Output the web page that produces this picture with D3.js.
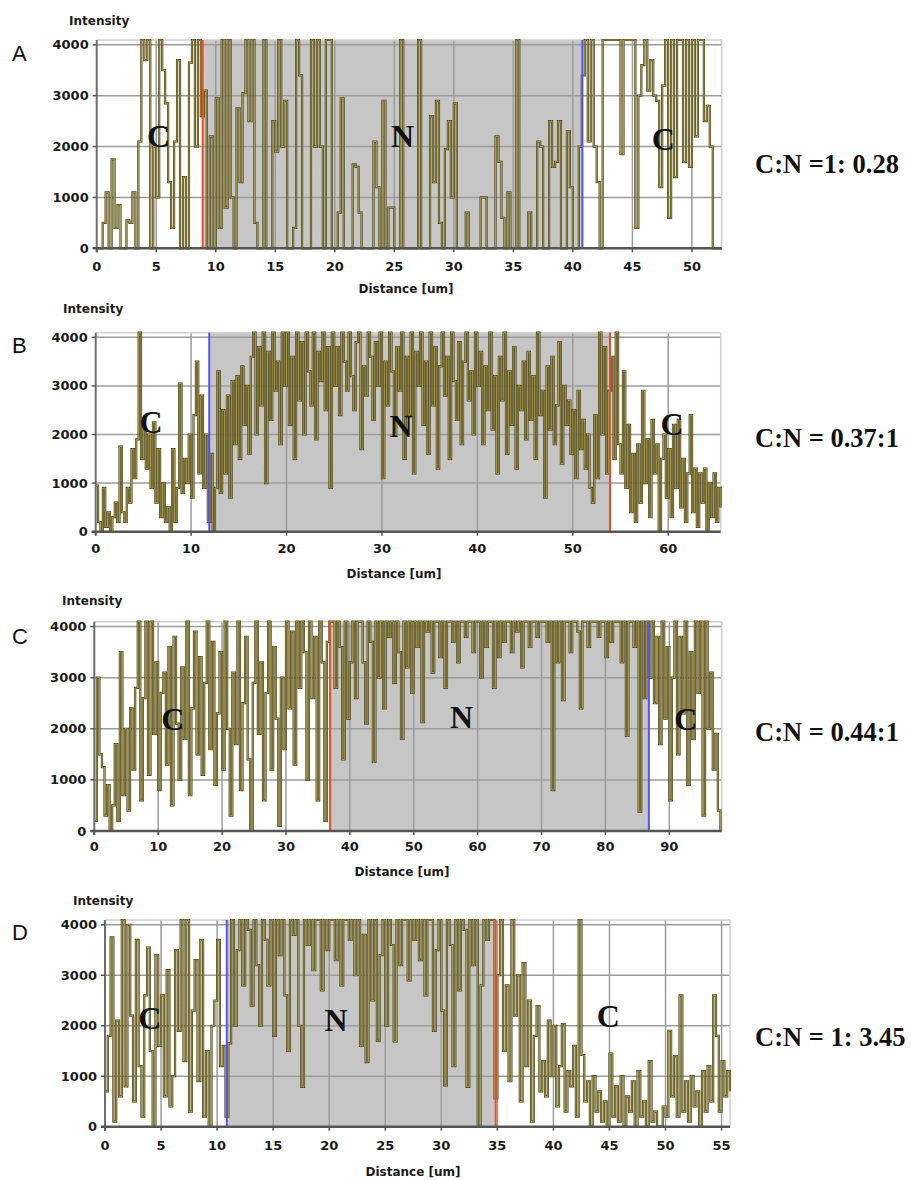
<!DOCTYPE html>
<html>
<head>
<meta charset="utf-8">
<script src="https://cdn.jsdelivr.net/npm/d3@7"></script>
<style>
  body { margin: 0; background: #fff; }
  svg { display: block; }
</style>
</head>
<body>
<svg id="fig" width="911" height="1180"></svg>
<script>
// intensity profiles, one sample every `step` um
var stepA = 0.25;
var intensityA = [
  0, 0, 500, 1100, 0, 1750, 400, 850, 0, 0, 550, 500, 1100, 0, 2100, 4095, 3700, 4095, 0, 2000,
  1000, 4095, 3500, 2850, 1300, 400, 2100, 3700, 0, 1400, 0, 3650, 4095, 2000, 4095, 2600, 3100, 0, 2200, 0,
  2950, 400, 4095, 800, 4095, 1000, 0, 2750, 1300, 3050, 4095, 2500, 4095, 500, 0, 0, 4095, 0, 0, 2500,
  1900, 4095, 2000, 2900, 0, 0, 400, 4095, 3400, 0, 0, 0, 4095, 2000, 4095, 2000, 0, 4095, 4095, 0,
  0, 700, 2950, 0, 0, 0, 1650, 1600, 700, 0, 0, 0, 0, 2100, 1200, 0, 2900, 0, 800, 800,
  0, 0, 4095, 0, 0, 0, 0, 0, 4095, 0, 0, 0, 2600, 1300, 2900, 500, 0, 1950, 2500, 1000,
  2850, 0, 0, 0, 700, 0, 0, 0, 0, 1000, 1000, 0, 0, 0, 2200, 1700, 600, 0, 1100, 0,
  0, 4095, 0, 0, 0, 700, 0, 0, 2100, 2000, 0, 0, 2500, 1600, 1700, 2500, 0, 0, 2300, 1200,
  0, 0, 2000, 3400, 4095, 2100, 4095, 2000, 1300, 0, 4095, 4095, 4095, 4095, 4095, 4095, 1850, 4095, 4095, 4095,
  4095, 400, 3000, 3600, 4095, 3100, 3700, 3000, 2900, 1200, 3200, 4095, 600, 4095, 1400, 4095, 4095, 1700, 4095, 1600,
  4095, 2200, 4095, 4095, 2500, 2800, 2000, 0, 0, 0, 0
];

var stepB = 0.25;
var intensityB = [
  950, 200, 0, 900, 100, 400, 0, 300, 600, 200, 1750, 400, 200, 900, 600, 1700, 1100, 1900, 4095, 1500,
  2100, 1300, 2000, 900, 2250, 600, 1700, 300, 1000, 200, 500, 0, 1700, 200, 900, 3050, 800, 1500, 1000, 2000,
  700, 2400, 3500, 1200, 2800, 900, 2000, 200, 1600, 0, 900, 3300, 800, 2500, 1200, 2800, 700, 3100, 1800, 3200,
  1500, 3400, 2200, 3000, 1600, 3600, 4095, 2000, 3800, 2600, 4095, 1000, 3700, 2300, 4095, 2900, 3500, 1800, 4095, 3000,
  4095, 2200, 3600, 1500, 4095, 2700, 3900, 2000, 4095, 3300, 2600, 4095, 1900, 3700, 3100, 4095, 2500, 3800, 900, 4095,
  3000, 3800, 2400, 4095, 3500, 2900, 4095, 3200, 2500, 3900, 4095, 1700, 3400, 2800, 4095, 3600, 2300, 3900, 3000, 4095,
  1100, 3500, 2600, 4095, 3300, 2000, 3800, 2900, 4095, 1500, 3600, 2400, 4095, 1200, 3700, 3000, 4095, 2200, 3500, 1600,
  4095, 2600, 3800, 1300, 3400, 4095, 2800, 3600, 1500, 4095, 3100, 2300, 3900, 1800, 3500, 4095, 2700, 3300, 2000, 4095,
  3000, 3700, 1800, 3400, 2500, 4095, 2100, 3200, 1200, 3600, 2700, 4095, 1600, 3300, 2200, 3800, 1300, 3000, 2500, 3500,
  1900, 3700, 2300, 3200, 1500, 4095, 2400, 2900, 700, 3400, 2100, 3600, 1800, 2600, 3900, 1400, 3000, 2200, 2700, 1600,
  2500, 1100, 2900, 1700, 2300, 1300, 2000, 900, 600, 2400, 1100, 4095, 2000, 3800, 1200, 2900, 3600, 1500, 4095, 1800,
  1200, 3300, 900, 2200, 400, 1600, 200, 1800, 600, 2900, 1000, 1900, 300, 2300, 1200, 1800, 0, 1500, 2000, 700,
  1700, 300, 2200, 900, 2300, 500, 1500, 200, 1200, 2400, 400, 1300, 100, 1200, 600, 1300, 0, 1000, 300, 1200,
  200, 900, 500
];

var stepC = 0.4;
var intensityC = [
  200, 3000, 1500, 1250, 300, 900, 0, 500, 1700, 200, 3500, 700, 2000, 400, 2400, 1200, 2800, 4095, 600, 2600, 4095, 1100, 4095, 1900, 3300,
  800, 2700, 3100, 1300, 3600, 500, 3800, 2100, 1000, 3200, 1800, 4095, 700, 2400, 3900, 1500, 3400, 1100, 2900, 4095, 1600, 3700, 900, 2300, 3500,
  1200, 4095, 2000, 300, 3100, 1700, 4095, 800, 2500, 3800, 1400, 0, 2900, 4095, 1900, 3300, 600, 2700, 4095, 1200, 3600, 2200, 100, 3000, 1600,
  4095, 2400, 3900, 1300, 4095, 2800, 4095, 3500, 1000, 4095, 2600, 3800, 600, 4095, 3300, 200, 3700, 4095,
  4095, 2800, 4095, 3600, 1400, 4095, 2200, 3300,
  4095, 2600, 4095, 4095, 3300, 2100, 4095, 3700, 1350, 4095, 3000, 4095,
  2400, 4095, 3800, 4095, 2900, 4095, 3500, 1800, 4095, 3200, 4095, 2700, 4095,
  3600, 4095, 2130, 4095, 3900, 4095, 3100, 4095, 4095, 3400, 4095, 2800,
  4095, 4095, 3700, 4095, 3300, 4095, 4095, 3800, 4095, 4095, 3500, 4095, 4095,
  3000, 4095, 3600, 4095, 4095, 2800, 4095, 3400, 4095, 3700, 4095, 4095,
  3500, 4095, 3900, 4095, 3200, 4095, 4095, 3600, 4095, 4095, 3800, 4095, 4095,
  4095, 3700, 4095, 800, 4095, 3300, 4095, 2560, 4095, 4095, 3500, 4095,
  4095, 3900, 2400, 4095, 4095, 3600, 4095, 4095, 4095, 3800, 4095, 4095, 3400,
  4095, 3700, 4095, 4095, 4095, 3300, 4095, 1860, 4095, 4095, 3600, 4095, 380, 4095, 2600, 4095, 3000,
  4095, 2500, 3800, 1700, 4095, 2200, 3600, 600, 3000, 4095, 1500, 3800, 2300, 4095, 900, 3500, 1800, 4095, 2700, 4095,
  300, 4095, 2000, 3100, 1200, 1900, 400, 0
];

var stepD = 0.25;
var intensityD = [
  700, 1800, 3750, 100, 2100, 600, 4095, 800, 4000, 2200, 500, 3700, 1200, 200, 2600, 3550, 1500, 0, 3400, 1600,
  2600, 600, 3100, 400, 1000, 3500, 1900, 4095, 1300, 4095, 300, 2300, 3300, 900, 3700, 200, 1500, 0, 2000, 2500,
  3700, 1200, 1600, 200,
  1650, 4095, 2000, 3500, 4095, 2800, 4095, 3900, 2400, 4095, 3200, 2000, 4095, 3700, 2800, 4095,
  1800, 4095, 3400, 4095, 2600, 1500, 4095, 3800, 4095, 2000, 790, 4095, 3600, 4095, 3100, 4095, 4095, 2700, 4095, 3500,
  4095, 4095, 3300, 4095, 2800, 4095, 4095, 3700, 4095, 3000, 4095, 1600, 3800, 1280, 4095, 2500, 4095, 1700, 3400, 4095,
  2000, 4095, 3600, 1690, 4095, 3200, 4095, 4095, 2900, 4095, 3700, 4095, 3300, 4095, 2600, 4095, 4095, 1900, 3500, 4095,
  2300, 820, 4095, 3600, 1200, 4095, 2700, 4095, 3900, 790, 4095, 3200, 4095, 0, 2800, 4095, 3700, 4095, 4095, 560,
  3000, 4095, 1500, 2800, 900, 4095, 2200, 3000, 500, 3240, 1200, 2500, 100, 1800, 2390, 700, 1300, 600, 2100, 1000,
  2000, 400, 1200, 2035, 300, 1100, 800, 1600, 200, 4095, 1420, 500, 900, 0, 1000, 300, 700, 100, 500, 0,
  1450, 200, 800, 100, 1000, 0, 600, 300, 900, 0, 1100, 200, 500, 0, 1300, 100, 300, 0, 0, 400,
  200, 1900, 600, 1400, 200, 2600, 300, 900, 100, 1000, 400, 700, 0, 1100, 300, 1200, 500, 2600, 1800, 300,
  1300, 600, 1100, 700
];

var ticksA = [0, 5, 10, 15, 20, 25, 30, 35, 40, 45, 50];
var ticksB = [0, 10, 20, 30, 40, 50, 60];
var ticksC = [0, 10, 20, 30, 40, 50, 60, 70, 80, 90];
var ticksD = [0, 5, 10, 15, 20, 25, 30, 35, 40, 45, 50, 55];
var yTicks = [0, 1000, 2000, 3000, 4000];

// nucleus boundaries [red, blue] in um
var boundsA = [8.9, 40.8];
var boundsB = [53.9, 11.9];
var boundsC = [36.9, 86.8];
var boundsD = [34.85, 10.86];

// region labels: [text, distance, intensity]
var regionsA = [["C", 5.2, 2000], ["N", 25.7, 2000], ["C", 47.6, 1930]];
var regionsB = [["C", 5.8, 2040], ["N", 32.0, 1955], ["C", 60.4, 1990]];
var regionsC = [["C", 12.3, 1976], ["N", 57.5, 2020], ["C", 92.6, 1976]];
var regionsD = [["C", 4.0, 1936], ["N", 20.6, 1902], ["C", 44.9, 1981]];

var ratios = ["C:N =1: 0.28", "C:N = 0.37:1", "C:N = 0.44:1", "C:N = 1: 3.45"];
var letters = ["A", "B", "C", "D"];

var yMax = 4095;

// page layout of each panel
var layout = [
  {x0: 96.7, x1: 721.7, top: 40, bottom: 248.3, xMax: 52.5, intY: 24.5, intX: 69, letY: 61, labY: 270.5, distY: 292.5, distX: 406, ratioY: 173},
  {x0: 95.7, x1: 720.7, top: 332.7, bottom: 531.7, xMax: 65.5, intY: 312.8, intX: 63, letY: 353, labY: 553, distY: 578, distX: 394, ratioY: 446.5},
  {x0: 94.3, x1: 721.7, top: 621.7, bottom: 831, xMax: 98.2, intY: 604.5, intX: 62, letY: 644, labY: 850.5, distY: 876, distX: 402, ratioY: 741},
  {x0: 105, x1: 730, top: 920, bottom: 1126.7, xMax: 55.75, intY: 904.5, intX: 73, letY: 940, labY: 1150, distY: 1176, distX: 413, ratioY: 1046}
];

var series = [
  {step: stepA, values: intensityA, ticks: ticksA, bounds: boundsA, regions: regionsA},
  {step: stepB, values: intensityB, ticks: ticksB, bounds: boundsB, regions: regionsB},
  {step: stepC, values: intensityC, ticks: ticksC, bounds: boundsC, regions: regionsC},
  {step: stepD, values: intensityD, ticks: ticksD, bounds: boundsD, regions: regionsD}
];

var svg = d3.select("#fig");
var sans = "'DejaVu Sans', Verdana, sans-serif";
var serif = "'Liberation Serif', 'Times New Roman', serif";

series.forEach(function(s, k) {
  var L = layout[k];
  var x = d3.scaleLinear().domain([0, L.xMax]).range([L.x0, L.x1]);
  var y = d3.scaleLinear().domain([0, yMax]).range([L.bottom, L.top]);
  var g = svg.append("g");

  // nucleus shading
  var lo = d3.min(s.bounds), hi = d3.max(s.bounds);
  g.append("rect")
    .attr("x", x(lo)).attr("y", y(yMax))
    .attr("width", x(hi) - x(lo)).attr("height", y(0) - y(yMax))
    .attr("fill", "#c6c6c6");

  // grid
  g.selectAll(".hg").data(yTicks.slice(1)).enter().append("line")
    .attr("x1", L.x0).attr("x2", L.x1)
    .attr("y1", function(d) { return y(d); }).attr("y2", function(d) { return y(d); })
    .attr("stroke", "#9c9c9c").attr("stroke-width", 1.5);
  g.selectAll(".vg").data(s.ticks.slice(1)).enter().append("line")
    .attr("x1", function(d) { return x(d); }).attr("x2", function(d) { return x(d); })
    .attr("y1", y(yMax)).attr("y2", y(0))
    .attr("stroke", "#9c9c9c").attr("stroke-width", 1.5);

  // frame top / right
  g.append("line").attr("x1", L.x0).attr("x2", L.x1).attr("y1", y(yMax)).attr("y2", y(yMax))
    .attr("stroke", "#cfcfcf").attr("stroke-width", 1.5);
  g.append("line").attr("x1", L.x1).attr("x2", L.x1).attr("y1", y(yMax)).attr("y2", y(0))
    .attr("stroke", "#cfcfcf").attr("stroke-width", 1.5);

  // trace
  var line = d3.line()
    .x(function(d, i) { return x(i * s.step); })
    .y(function(d) { return y(d); })
    .curve(d3.curveStepAfter);
  g.append("path").datum(s.values).attr("d", line)
    .attr("fill", "none").attr("stroke", "#4b4211").attr("stroke-width", 2.2);
  g.append("path").datum(s.values).attr("d", line)
    .attr("fill", "none").attr("stroke", "#bdb16b").attr("stroke-width", 0.8);

  // boundary markers
  g.append("line").attr("x1", x(s.bounds[0])).attr("x2", x(s.bounds[0]))
    .attr("y1", y(yMax)).attr("y2", y(0)).attr("stroke", "#f24a22").attr("stroke-width", 2);
  g.append("line").attr("x1", x(s.bounds[1])).attr("x2", x(s.bounds[1]))
    .attr("y1", y(yMax)).attr("y2", y(0)).attr("stroke", "#5555f2").attr("stroke-width", 2);

  // axes
  g.append("line").attr("x1", L.x0).attr("x2", L.x0).attr("y1", y(yMax)).attr("y2", y(0) + 4)
    .attr("stroke", "#6e6e6e").attr("stroke-width", 2);
  g.append("line").attr("x1", L.x0 - 4).attr("x2", L.x1).attr("y1", y(0)).attr("y2", y(0))
    .attr("stroke", "#555").attr("stroke-width", 2.5);
  g.selectAll(".yt").data(yTicks).enter().append("line")
    .attr("x1", L.x0 - 4).attr("x2", L.x0)
    .attr("y1", function(d) { return y(d); }).attr("y2", function(d) { return y(d); })
    .attr("stroke", "#555").attr("stroke-width", 1.5);
  g.selectAll(".xt").data(s.ticks).enter().append("line")
    .attr("x1", function(d) { return x(d); }).attr("x2", function(d) { return x(d); })
    .attr("y1", y(0)).attr("y2", y(0) + 4)
    .attr("stroke", "#555").attr("stroke-width", 1.5);

  g.selectAll(".yl").data(yTicks).enter().append("text")
    .attr("x", L.x0 - 8).attr("y", function(d) { return y(d) + 4.5; })
    .attr("text-anchor", "end")
    .style("font", "bold 13px " + sans).attr("fill", "#1a1a1a")
    .text(function(d) { return d; });
  g.selectAll(".xl").data(s.ticks).enter().append("text")
    .attr("x", function(d) { return x(d); }).attr("y", L.labY)
    .attr("text-anchor", "middle")
    .style("font", "bold 13px " + sans).attr("fill", "#1a1a1a")
    .text(function(d) { return d; });

  g.append("text").attr("x", L.intX).attr("y", L.intY)
    .style("font", "bold 12px " + sans).attr("fill", "#1a1a1a").text("Intensity");
  g.append("text").attr("x", L.distX).attr("y", L.distY).attr("text-anchor", "middle")
    .style("font", "bold 12px " + sans).attr("fill", "#1a1a1a").text("Distance [um]");
  g.append("text").attr("x", 12).attr("y", L.letY)
    .style("font", "22px 'Liberation Sans', Arial, sans-serif").attr("fill", "#111").text(letters[k]);

  // C / N labels
  g.selectAll(".rg").data(s.regions).enter().append("text")
    .attr("x", function(d) { return x(d[1]); }).attr("y", function(d) { return y(d[2]); })
    .attr("text-anchor", "middle")
    .style("font", "bold 32px " + serif).attr("fill", "#111")
    .text(function(d) { return d[0]; });

  g.append("text").attr("x", 755).attr("y", L.ratioY)
    .style("font", "bold 26.5px " + serif).attr("fill", "#111").text(ratios[k]);
});
</script>
</body>
</html>
